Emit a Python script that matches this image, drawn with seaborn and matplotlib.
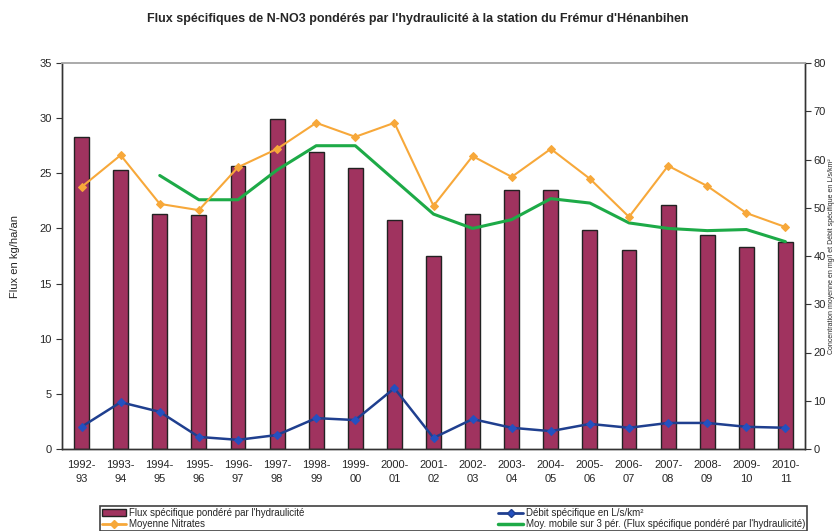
import numpy as np
import pandas as pd
import matplotlib
matplotlib.use("Agg")
import matplotlib.pyplot as plt
from matplotlib.lines import Line2D
from matplotlib.patches import Patch
import seaborn as sns

# Données
annees = ["1992-\n93", "1993-\n94", "1994-\n95", "1995-\n96", "1996-\n97", "1997-\n98",
          "1998-\n99", "1999-\n00", "2000-\n01", "2001-\n02", "2002-\n03", "2003-\n04",
          "2004-\n05", "2005-\n06", "2006-\n07", "2007-\n08", "2008-\n09", "2009-\n10",
          "2010-\n11"]
flux = [28.3, 25.3, 21.3, 21.2, 25.7, 29.9, 26.9, 25.5, 20.8, 17.5,
        21.3, 23.5, 23.5, 19.9, 18.0, 22.1, 19.4, 18.3, 18.8]
nitrates = [54.3, 60.9, 50.8, 49.5, 58.4, 62.2, 67.6, 64.7, 67.6, 50.4,
            60.7, 56.4, 62.2, 56.0, 48.1, 58.7, 54.5, 48.9, 46.0]
debit = [4.6, 9.7, 7.7, 2.5, 1.9, 2.9, 6.4, 6.0, 12.6, 2.3,
         6.2, 4.4, 3.7, 5.2, 4.4, 5.4, 5.4, 4.6, 4.4]
moy_mobile = [np.nan, np.nan, 24.8, 22.6, 22.6, 25.3, 27.5, 27.5, 24.4, 21.3,
              20.0, 20.8, 22.7, 22.3, 20.5, 20.0, 19.8, 19.9, 18.8]

df = pd.DataFrame({"annee": annees, "flux": flux, "nitrates": nitrates,
                   "debit": debit, "moy": moy_mobile})
df["pos"] = np.arange(len(df))

sns.set_style("white")
plt.rcParams['font.family'] = ['Liberation Sans Narrow', 'Liberation Sans', 'DejaVu Sans']

c_bar = "#A0335F"
c_orange = "#F7A83A"
c_blue = "#1F3F8F"
c_green = "#1DAA47"

fig = plt.figure(figsize=(8.35, 5.31), dpi=100)
ax = fig.add_axes([62/835, 1 - 449/531, (805 - 62)/835, (449 - 63)/531])

sns.barplot(data=df, x="annee", y="flux", color=c_bar, width=0.38,
            edgecolor="#222222", linewidth=1.0, saturation=1, ax=ax, zorder=2)
sns.lineplot(data=df, x="pos", y="moy", color=c_green, linewidth=2.2, ax=ax, zorder=3)

ax2 = ax.twinx()
sns.lineplot(data=df, x="pos", y="nitrates", color=c_orange, linewidth=1.5,
             marker="D", markersize=4.5, markeredgecolor=c_orange, ax=ax2)
sns.lineplot(data=df, x="pos", y="debit", color=c_blue, linewidth=1.8,
             marker="D", markersize=4.5, markerfacecolor="#2450C0",
             markeredgecolor="#2450C0", ax=ax2)

ax.set_xlim(-0.5, len(df) - 0.5)
ax.set_ylim(0, 35)
ax2.set_ylim(0, 80)
ax.set_yticks(range(0, 36, 5))
ax2.set_yticks(range(0, 81, 10))

ax.set_xticks(df["pos"])
ax.set_xticklabels(annees, fontsize=8, linespacing=1.5)
ax.set_xticks(np.arange(-0.5, len(df), 1), minor=True)
ax.tick_params(axis="x", which="major", length=0, pad=8)
ax.tick_params(axis="x", which="minor", length=4, direction="out", color="#333333")
ax.tick_params(axis="y", length=4, direction="out", labelsize=8, color="#333333")
ax2.tick_params(axis="y", length=4, direction="out", labelsize=8, color="#333333", pad=2)

ax.set_xlabel("")
ax.set_ylabel("Flux en kg/ha/an", fontsize=8, labelpad=14)
ax2.set_ylabel("Concentration moyenne en mg/l et Débit spécifique en L/s/km²",
               fontsize=5, labelpad=2)

for a in (ax, ax2):
    for s in ("left", "right", "bottom"):
        a.spines[s].set_color("#333333")
        a.spines[s].set_linewidth(1.0)
    a.spines["top"].set_color("#aaaaaa")
    a.spines["top"].set_linewidth(1.2)

fig.suptitle("Flux spécifiques de N-NO3 pondérés par l'hydraulicité à la station du Frémur d'Hénanbihen",
             fontsize=9, fontweight="bold", y=0.975)

handles = [
    Patch(facecolor=c_bar, edgecolor="#222222", label="Flux spécifique pondéré par l'hydraulicité"),
    Line2D([], [], color=c_orange, linewidth=2, marker="D", markersize=4,
           label="Moyenne Nitrates"),
    Line2D([], [], color=c_blue, linewidth=2, marker="D", markersize=4,
           markerfacecolor="#2450C0", label="Débit spécifique en L/s/km²"),
    Line2D([], [], color=c_green, linewidth=2.5,
           label="Moy. mobile sur 3 pér. (Flux spécifique pondéré par l'hydraulicité)"),
]
leg = fig.legend(handles=handles, ncol=2, fontsize=7, loc="lower left",
                 bbox_to_anchor=(100/835, 0.0, 707/835, 28/531), mode="expand",
                 frameon=True, fancybox=False, borderpad=0.2, labelspacing=0.1,
                 handlelength=2.5, handletextpad=0.3, borderaxespad=0)
leg.get_frame().set_edgecolor("#111111")
leg.get_frame().set_linewidth(1.2)

fig.savefig("out.png", dpi=100)
